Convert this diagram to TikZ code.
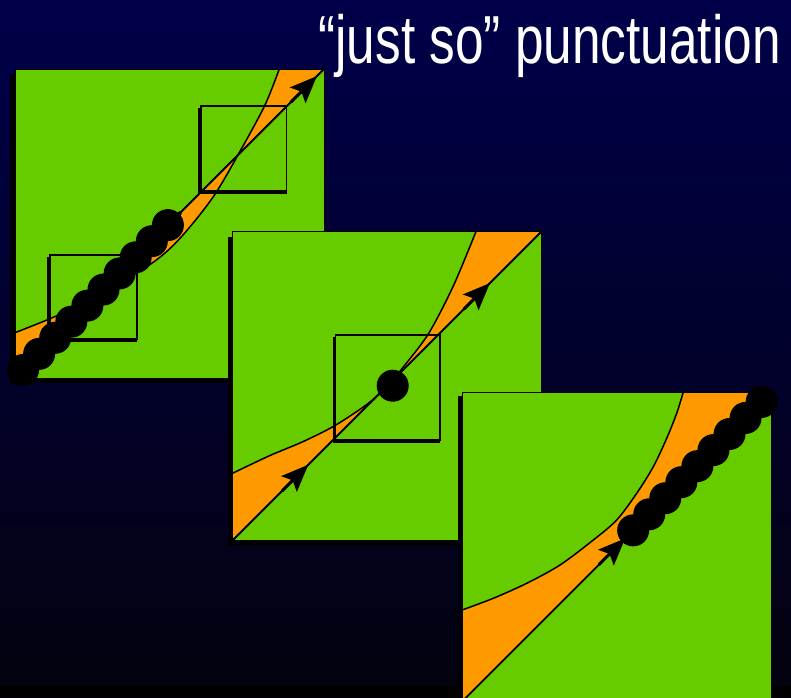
\documentclass[tikz,border=0pt]{standalone}
\usepackage{fontspec}
\usepackage{xcolor}
\usetikzlibrary{arrows.meta, calc}
\newfontfamily\titlefont{Liberation Sans}[FakeStretch=0.755]
\definecolor{slide-top}{RGB}{0,0,74}
\definecolor{slide-bottom}{RGB}{3,2,14}
\definecolor{basin-green}{HTML}{66CC00}
\definecolor{channel-orange}{HTML}{FF9900}

\tikzset{
  slide title/.style={anchor=base east, inner sep=0pt, text=white,
    font=\titlefont\fontsize{68}{68}\selectfont},
  panel/.style={fill=basin-green},
  panel shadow/.style={fill=black},
  panel edge/.style={draw=black, line width=0.6pt},
  channel/.style={fill=channel-orange},
  graph line/.style={draw=black, line width=1.5pt},
  diag line/.style={draw=black, line width=1.8pt},
  zoom box/.style={draw=black, line width=1.8pt},
  zoom shadow/.style={draw=black, line width=2.4pt},
  flow/.style={draw=black, line width=3pt,
    -{Stealth[length=27pt, width=22pt, inset=5pt]}},
  orbit dot/.style={fill=black},
}

\begin{document}
\begin{tikzpicture}[x=1pt, y=-1pt]
    % Slide 791 x 697, coordinates (x, y) with y counted downwards
    %   panel 1 (15,69)-(324,378): two fixed points, a box on each
    %   panel 2 (232.5,231.5)-(541.5,540.5): tangency, one box
    %   panel 3 (462,392)-(771.5,701.5): channel open, orbit slips through
    %   shadows are offset (-5,5), dots have radius 16
    \useasboundingbox (0,0) rectangle (791,697);
    \shade[top color=slide-top, bottom color=slide-bottom] (0,0) rectangle (791,697);
    \fill[black] (0,686) rectangle (791,697);
    \node[slide title] (title) at (781,63) {“just so” punctuation};

    % panel 1
    \coordinate (p1ll) at (15,378);
    \coordinate (p1ur) at (324,69);
    \fill[panel shadow] ([shift={(-5,5)}]p1ll) rectangle ([shift={(-5,5)}]p1ur);
    \fill[panel] (p1ll) rectangle (p1ur);
    \fill[channel] (p1ll) -- plot[smooth] coordinates {(15,332.7) (53.3,317.3)
      (93.5,298.5) (151.7,263.3) (180,238.3) (213.3,196.7) (241.7,148.3)
      (265,105) (279.3,69)} -- (p1ur) -- cycle;
    \draw[graph line] plot[smooth] coordinates {(15,332.7) (53.3,317.3)
      (93.5,298.5) (151.7,263.3) (180,238.3) (213.3,196.7) (241.7,148.3)
      (265,105) (279.3,69)};
    \draw[diag line] (p1ll) -- (p1ur);
    \draw[panel edge] (p1ll) rectangle (p1ur);
    \draw[zoom shadow] (48.5,257) |- (137,340.5);
    \draw[zoom box] (50,255) rectangle (137,339);
    \draw[zoom shadow] (199.5,108) |- (286.5,192.5);
    \draw[zoom box] (201,106) rectangle (286.5,191);
    \draw[flow] ($(p1ll)!0.892!(p1ur)$) -- ($(p1ll)!0.977!(p1ur)$);
    \draw[flow] ($(p1ll)!0.459!(p1ur)$) -- ($(p1ll)!0.544!(p1ur)$);
    \foreach \k [evaluate=\k as \t using 0.026+0.0521*\k] in {0,...,9}
      \fill[orbit dot] ($(p1ll)!\t!(p1ur)$) circle (16);

    % panel 2
    \coordinate (p2ll) at (232.5,540.5);
    \coordinate (p2ur) at (541.5,231.5);
    \fill[panel shadow] ([shift={(-5,5)}]p2ll) rectangle ([shift={(-5,5)}]p2ur);
    \fill[panel] (p2ll) rectangle (p2ur);
    \fill[channel] (p2ll) -- plot[smooth] coordinates {(232.5,473.3) (270,455.5)
      (303.3,441.5) (335,425.5) (366.7,404.5) (388,386) (401.7,369) (428.3,334)
      (453.3,286) (476,231.5)} -- (p2ur) -- cycle;
    \draw[graph line] plot[smooth] coordinates {(232.5,473.3) (270,455.5)
      (303.3,441.5) (335,425.5) (366.7,404.5) (388,386) (401.7,369) (428.3,334)
      (453.3,286) (476,231.5)};
    \draw[diag line] (p2ll) -- (p2ur);
    \draw[panel edge] (p2ll) rectangle (p2ur);
    \draw[zoom shadow] (334,337) |- (440,441.5);
    \draw[zoom box] (335.5,335) rectangle (440,440);
    \draw[flow] ($(p2ll)!0.160!(p2ur)$) -- ($(p2ll)!0.245!(p2ur)$);
    \draw[flow] ($(p2ll)!0.748!(p2ur)$) -- ($(p2ll)!0.833!(p2ur)$);
    \fill[orbit dot] (392.7,385.7) circle (16);

    % panel 3
    \coordinate (p3ll) at (462,701.5);
    \coordinate (p3ur) at (771.5,392);
    \fill[panel shadow] ([shift={(-4,4)}]p3ll) rectangle ([shift={(-4,4)}]p3ur);
    \fill[panel] (p3ll) rectangle (p3ur);
    \fill[channel] (p3ll) -- plot[smooth] coordinates {(462,610) (493.3,598.3)
      (526.7,583.3) (560,565) (593.3,540) (616.7,520) (636.7,493.3)
      (653.3,466.7) (666.7,438.3) (676.7,413.3) (683.3,392)} -- (p3ur) -- cycle;
    \draw[graph line] plot[smooth] coordinates {(462,610) (493.3,598.3)
      (526.7,583.3) (560,565) (593.3,540) (616.7,520) (636.7,493.3)
      (653.3,466.7) (666.7,438.3) (676.7,413.3) (683.3,392)};
    \draw[diag line] (p3ll) -- (p3ur);
    \draw[panel edge] (p3ll) rectangle (p3ur);
    \draw[flow] ($(p3ll)!0.442!(p3ur)$) -- ($(p3ll)!0.527!(p3ur)$);
    \foreach \k [evaluate=\k as \t using 0.553+0.0519*\k] in {0,...,8}
      \fill[orbit dot] ($(p3ll)!\t!(p3ur)$) circle (16);
  \end{tikzpicture}
\end{document}
